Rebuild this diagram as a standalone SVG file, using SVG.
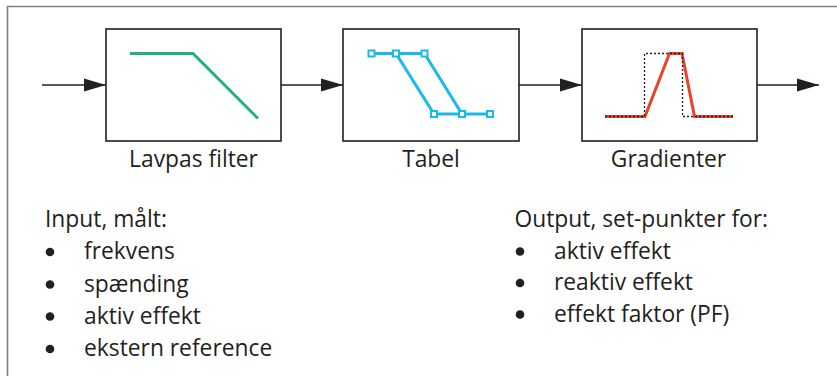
<svg xmlns="http://www.w3.org/2000/svg" width="837" height="376" viewBox="0 0 837 376">
<style>
.box{fill:#fff;stroke:#231f20;stroke-width:1.6}
.conn{stroke:#231f20;stroke-width:1.4;fill:none}
.lbl{font-family:"Open Sans","Liberation Sans",sans-serif;font-size:22.8px;fill:#231f20}
.mid{text-anchor:middle}
.bul{fill:#231f20}
.sq{fill:#fff;stroke:#19b9ec;stroke-width:2}
</style>
<defs>
<marker id="ah" markerWidth="22" markerHeight="14" refX="22" refY="7" orient="auto" markerUnits="userSpaceOnUse">
<path d="M0,0.5 L22,7 L0,13.5 Z" fill="#231f20"/>
</marker>
</defs>
<rect width="837" height="376" fill="#fff"/>
<path d="M7.5,376 V6.5 H837" fill="none" stroke="#808080" stroke-width="1.6"/>
<g id="connectors">
<line class="conn" x1="42" y1="85" x2="106" y2="85" marker-end="url(#ah)"/>
<line class="conn" x1="281" y1="85" x2="343" y2="85" marker-end="url(#ah)"/>
<line class="conn" x1="519" y1="85" x2="582" y2="85" marker-end="url(#ah)"/>
<line class="conn" x1="757" y1="85" x2="819" y2="85" marker-end="url(#ah)"/>
</g>
<g id="lavpas">
<rect class="box" x="106" y="29" width="175" height="112"/>
<polyline points="130,53.5 193,53.5 258,118.5" fill="none" stroke="#1fb377" stroke-width="3"/>
<text class="lbl mid" x="193.5" y="167">Lavpas filter</text>
</g>
<g id="tabel">
<rect class="box" x="343" y="29" width="176" height="112"/>
<g fill="none" stroke="#19b9ec" stroke-width="3">
<polyline points="371.5,53.5 424.5,53.5 462,114 490,114"/>
<polyline points="396,53.5 434,114 462,114"/>
</g>
<rect class="sq" x="368.5" y="50.5" width="6" height="6"/>
<rect class="sq" x="393" y="50.5" width="6" height="6"/>
<rect class="sq" x="421.5" y="50.5" width="6" height="6"/>
<rect class="sq" x="431" y="111" width="6" height="6"/>
<rect class="sq" x="459" y="111" width="6" height="6"/>
<rect class="sq" x="487" y="111" width="6" height="6"/>
<text class="lbl mid" x="431" y="167">Tabel</text>
</g>
<g id="gradienter">
<rect class="box" x="582" y="29" width="175" height="112"/>
<polyline points="605,116.5 645,116.5 669.5,53.5 682,53.5 694.5,116.5 733,116.5" fill="none" stroke="#ea4228" stroke-width="3"/>
<polyline points="605,116.5 644.5,116.5 644.5,53.5 682.5,53.5 682.5,116.5 733,116.5" fill="none" stroke="#231f20" stroke-width="1.3" stroke-dasharray="2,2"/>
<text class="lbl mid" x="668.5" y="167">Gradienter</text>
</g>
<g id="input-list">
<text class="lbl" x="45" y="227">Input, målt:</text>
<circle class="bul" cx="50" cy="252" r="4.3"/>
<text class="lbl" x="84" y="259">frekvens</text>
<circle class="bul" cx="50" cy="284.5" r="4.3"/>
<text class="lbl" x="84" y="291.5">spænding</text>
<circle class="bul" cx="50" cy="316.5" r="4.3"/>
<text class="lbl" x="84" y="323.5">aktiv effekt</text>
<circle class="bul" cx="50" cy="349" r="4.3"/>
<text class="lbl" x="84" y="356">ekstern reference</text>
</g>
<g id="output-list">
<text class="lbl" x="514.5" y="227">Output, set-punkter for:</text>
<circle class="bul" cx="520" cy="251.5" r="4.3"/>
<text class="lbl" x="554" y="258.5">aktiv effekt</text>
<circle class="bul" cx="520" cy="283" r="4.3"/>
<text class="lbl" x="554" y="290">reaktiv effekt</text>
<circle class="bul" cx="520" cy="314.5" r="4.3"/>
<text class="lbl" x="554" y="321.5">effekt faktor (PF)</text>
</g>
</svg>
